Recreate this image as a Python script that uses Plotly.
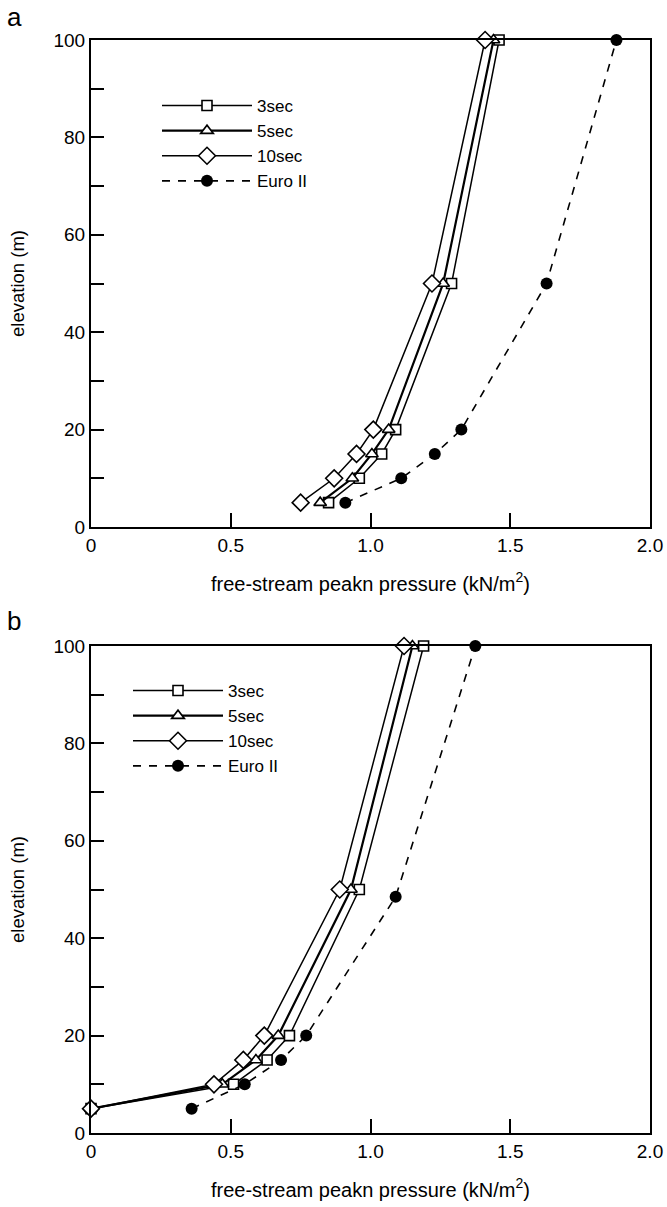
import plotly.graph_objects as go

# ---------------- data ----------------
elev = [5, 10, 15, 20, 50, 100]

a_3sec = [0.85, 0.96, 1.04, 1.09, 1.29, 1.46]
a_5sec = [0.82, 0.935, 1.005, 1.065, 1.26, 1.44]
a_10sec = [0.75, 0.87, 0.95, 1.01, 1.22, 1.41]
a_euro = [0.91, 1.11, 1.23, 1.325, 1.63, 1.88]

b_3sec = [0.0, 0.51, 0.63, 0.71, 0.96, 1.19]
b_5sec = [0.0, 0.47, 0.59, 0.67, 0.93, 1.15]
b_10sec = [0.0, 0.44, 0.545, 0.62, 0.89, 1.12]
b_euro_elev = [5, 10, 15, 20, 48.5, 100]
b_euro = [0.36, 0.55, 0.68, 0.77, 1.09, 1.375]

series_names = ["3sec", "5sec", "10sec", "Euro II"]
x_tickvals = [0, 0.5, 1.0, 1.5, 2.0]
x_ticktext = ["0", "0.5", "1.0", "1.5", "2.0"]
y_tickvals = [0, 20, 40, 60, 80, 100]
y_minor_vals = [10, 30, 50, 70, 90]

FONT = "Liberation Sans, Arial, sans-serif"
W, H = 667, 1207
ML, MR, MT, MB = 91, 17, 40, 74
PW, PH = W - ML - MR, H - MT - MB


def px_x(p):
    return (p - ML) / PW


def px_y(p):
    return 1 - (p - MT) / PH


fig = go.Figure()


def add_panel(xs_list, ys_list, xa, ya, legend_name):
    styles = [
        dict(symbol="square", size=10, lw=1.5),
        dict(symbol="triangle-up", size=11, lw=2.2),
        dict(symbol="diamond", size=13, lw=1.5),
        dict(symbol="circle", size=12, lw=1.5),
    ]
    for i, (name, xs, ys) in enumerate(zip(series_names, xs_list, ys_list)):
        st = styles[i]
        if name == "Euro II":
            marker = dict(symbol="circle", size=st["size"], color="black")
            line = dict(color="black", width=1.6, dash="8px,8px")
        else:
            marker = dict(symbol=st["symbol"], size=st["size"],
                          color="white", line=dict(color="black", width=1.6))
            line = dict(color="black", width=st["lw"])
        fig.add_trace(go.Scatter(
            x=xs, y=ys, name=name, mode="lines+markers",
            marker=marker, line=line, xaxis=xa, yaxis=ya,
            cliponaxis=False, legend=legend_name,
        ))


add_panel([a_3sec, a_5sec, a_10sec, a_euro], [elev, elev, elev, elev], "x", "y", "legend")
add_panel([b_3sec, b_5sec, b_10sec, b_euro], [elev, elev, elev, b_euro_elev], "x2", "y2", "legend2")

xaxis_common = dict(
    range=[0, 2.0], tickvals=x_tickvals, ticktext=x_ticktext,
    showline=True, linewidth=2, linecolor="black", mirror=True,
    ticks="inside", ticklen=14, tickwidth=2, tickcolor="black",
    showgrid=False, zeroline=False, automargin=False,
    tickfont=dict(family=FONT, size=19, color="black"),
    title=dict(text="free-stream peakn pressure (kN/m<sup>2</sup>)",
               font=dict(family=FONT, size=20, color="black"), standoff=22),
    domain=[0, 1],
)
yaxis_common = dict(
    range=[0, 100], tickvals=y_tickvals,
    minor=dict(tickvals=y_minor_vals, ticks="inside", ticklen=13, tickwidth=2, tickcolor="black"),
    showline=True, linewidth=2, linecolor="black", mirror=True,
    ticks="inside", ticklen=13, tickwidth=2, tickcolor="black",
    showgrid=False, zeroline=False, automargin=False,
    tickfont=dict(family=FONT, size=19, color="black"),
    title=dict(text="elevation (m)", font=dict(family=FONT, size=18.5, color="black"), standoff=24),
)

fig.update_layout(
    width=W, height=H,
    margin=dict(l=ML, r=MR, t=MT, b=MB, autoexpand=False),
    paper_bgcolor="white", plot_bgcolor="white",
    font=dict(family=FONT, size=18, color="black"),
    xaxis=dict(xaxis_common, anchor="y"),
    yaxis=dict(yaxis_common, anchor="x", domain=[px_y(527), px_y(40)]),
    xaxis2=dict(xaxis_common, anchor="y2"),
    yaxis2=dict(yaxis_common, anchor="x2", domain=[px_y(1133), px_y(646)]),
    legend=dict(x=px_x(157), y=px_y(88), xanchor="left", yanchor="top",
                bgcolor="rgba(0,0,0,0)", font=dict(family=FONT, size=17, color="black"),
                tracegroupgap=0, itemwidth=90),
    legend2=dict(x=px_x(128), y=px_y(673), xanchor="left", yanchor="top",
                 bgcolor="rgba(0,0,0,0)", font=dict(family=FONT, size=17, color="black"),
                 tracegroupgap=0, itemwidth=90),
    showlegend=True,
    annotations=[
        dict(text="a", x=px_x(14), y=px_y(17), xref="paper", yref="paper",
             xanchor="center", yanchor="middle",
             showarrow=False, font=dict(family=FONT, size=26, color="black")),
        dict(text="b", x=px_x(14), y=px_y(621), xref="paper", yref="paper",
             xanchor="center", yanchor="middle",
             showarrow=False, font=dict(family=FONT, size=26, color="black")),
    ],
)

fig.write_html("out.html", post_script="document.body.style.margin='0px';",
               config={"displayModeBar": False})
